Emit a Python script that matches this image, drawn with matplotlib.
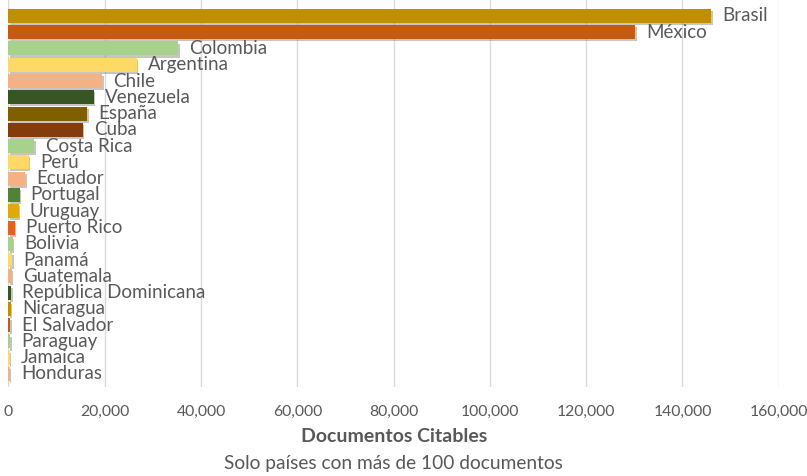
import matplotlib
matplotlib.use("Agg")
import matplotlib.pyplot as plt
import matplotlib.patheffects as pe
from matplotlib.ticker import FuncFormatter

countries = ["Brasil", "México", "Colombia", "Argentina", "Chile", "Venezuela",
             "España", "Cuba", "Costa Rica", "Perú", "Ecuador", "Portugal",
             "Uruguay", "Puerto Rico", "Bolivia", "Panamá", "Guatemala",
             "República Dominicana", "Nicaragua", "El Salvador", "Paraguay",
             "Jamaica", "Honduras"]
documentos = [146000, 130200, 35300, 26600, 19500, 17700, 16400, 15400,
              5400, 4200, 3500, 2300, 2100, 1300, 900, 800, 650,
              550, 480, 420, 350, 300, 280]

palette = ["#BF8F00", "#C55A11", "#A9D18E", "#FFD966", "#F4B183", "#375623",
           "#7F6000", "#843C0C", "#A9D18E", "#FFD966", "#F4B183", "#548235",
           "#E0A80A", "#E2631C", "#A9D18E", "#FFD966", "#F4B183", "#375623",
           "#BF8F00", "#C55A11", "#A9D18E", "#FFD966", "#F4B183"]

plt.rcParams["font.family"] = ["Lato", "DejaVu Sans"]
text_color = "#595959"

fig = plt.figure(figsize=(8.07, 4.76), dpi=100)
ax = fig.add_axes([0.0105, 0.187, 0.9545, 0.813])

ypos = list(range(len(countries)))
bars = ax.barh(ypos, documentos, height=0.86, color=palette, zorder=3)
for b in bars:
    b.set_path_effects([pe.SimplePatchShadow(offset=(1.0, -1.5), shadow_rgbFace="#7f7f7f", alpha=0.45),
                        pe.Normal()])

for y, v, name in zip(ypos, documentos, countries):
    ax.text(v + 2300, y, name, va="center", ha="left", fontsize=13.5,
            color=text_color, zorder=4)

ax.set_xlim(0, 160000)
ax.set_ylim(22.8, -0.98)
ax.set_xticks(range(0, 160001, 20000))
ax.xaxis.set_major_formatter(FuncFormatter(lambda v, p: f"{int(v):,}"))
ax.set_yticks([])
ax.tick_params(axis="x", length=0, pad=13, labelsize=11.3, labelcolor=text_color)
ax.grid(axis="x", color="#D9D9D9", linewidth=1.0, zorder=0)
for s in ax.spines.values():
    s.set_visible(False)

fig.text(0.488, 0.082, "Documentos Citables", ha="center", va="center",
         fontsize=14, fontweight="bold", color=text_color)
fig.text(0.488, 0.027, "Solo países con más de 100 documentos", ha="center",
         va="center", fontsize=13.8, color=text_color)

fig.savefig("out.png", dpi=100)
